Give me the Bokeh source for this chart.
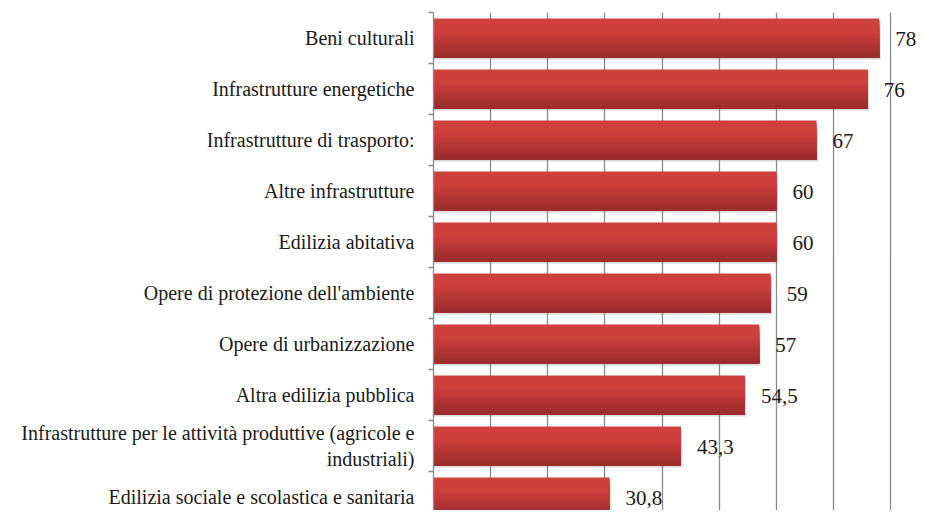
from bokeh.plotting import figure
from bokeh.models import Range1d, FixedTicker, Grid, ColumnDataSource
from bokeh.core.properties import value
from bokeh.embed import file_html
from bokeh.resources import INLINE

categories = [
    "Beni culturali",
    "Infrastrutture energetiche",
    "Infrastrutture di trasporto:",
    "Altre infrastrutture",
    "Edilizia abitativa",
    "Opere di protezione dell'ambiente",
    "Opere di urbanizzazione",
    "Altra edilizia pubblica",
    "Infrastrutture per le attività produttive (agricole e\nindustriali)",
    "Edilizia sociale e scolastica e sanitaria",
]
values = [78, 76, 67, 60, 60, 59, 57, 54.5, 43.3, 30.8]
value_labels = ["78", "76", "67", "60", "60", "59", "57", "54,5", "43,3", "30,8"]
grid_ticks = [10, 20, 30, 40, 50, 60, 70, 80]

FONT = "Liberation Serif"
GRAY = "#8a8a8a"
n = len(categories)
idx = list(range(n))

p = figure(width=922, height=510, output_backend="svg", toolbar_location=None,
           x_range=Range1d(0, 85.56), y_range=Range1d(9.265, -0.5),
           x_axis_location=None, min_border_left=433, min_border_right=0,
           min_border_top=12, min_border_bottom=0)
p.outline_line_color = None
p.ygrid.grid_line_color = None
p.background_fill_color = "white"

grid = Grid(dimension=0, ticker=FixedTicker(ticks=grid_ticks),
            grid_line_color=GRAY, grid_line_width=1.3)
p.add_layout(grid)

bh = 0.76
# shadow
p.hbar(y=[i + 0.05 for i in idx], right=[v + 0.3 for v in values], left=0, height=bh,
       fill_color="#7a7a7a", fill_alpha=0.16, line_color=None)
p.hbar(y=[i + 0.03 for i in idx], right=[v + 0.15 for v in values], left=0, height=bh,
       fill_color="#7a7a7a", fill_alpha=0.16, line_color=None)

# gradient bars: stacked layers, each covering from its top edge to the bar bottom
N = 16
top = (0xcf, 0x40, 0x3d)
bot = (0x9c, 0x2b, 0x2c)
for k in range(N):
    t = k / (N - 1)
    f = 0 if t < 0.3 else (t - 0.3) / 0.7
    c = tuple(int(round(top[j] + (bot[j] - top[j]) * f)) for j in range(3))
    col = "#%02x%02x%02x" % c
    frac = k / N
    h = bh * (1 - frac)
    off = bh / 2 - h / 2
    p.hbar(y=[i + off for i in idx], right=values, left=0, height=h,
           fill_color=col, line_color=None)

src = ColumnDataSource(dict(x=values, y=idx, t=value_labels))
p.text(x="x", y="y", text="t", source=src, x_offset=16, y_offset=1,
       text_align="left", text_baseline="middle",
       text_font=value(FONT), text_font_size="21px", text_color="#1a1a1a")

ax = p.yaxis[0]
ax.ticker = FixedTicker(ticks=idx, minor_ticks=[i - 0.5 for i in range(n + 1)])
ax.major_label_overrides = {i: categories[i] for i in idx}
ax.major_tick_line_color = None
ax.minor_tick_line_color = GRAY
ax.minor_tick_out = 5
ax.minor_tick_in = 0
ax.minor_tick_line_width = 1.3
ax.axis_line_color = GRAY
ax.axis_line_width = 1.3
ax.major_label_standoff = 13
ax.major_label_text_font = FONT
ax.major_label_text_font_size = "20px"
ax.major_label_text_color = "#1a1a1a"

open("out.html", "w").write(file_html(p, INLINE))
